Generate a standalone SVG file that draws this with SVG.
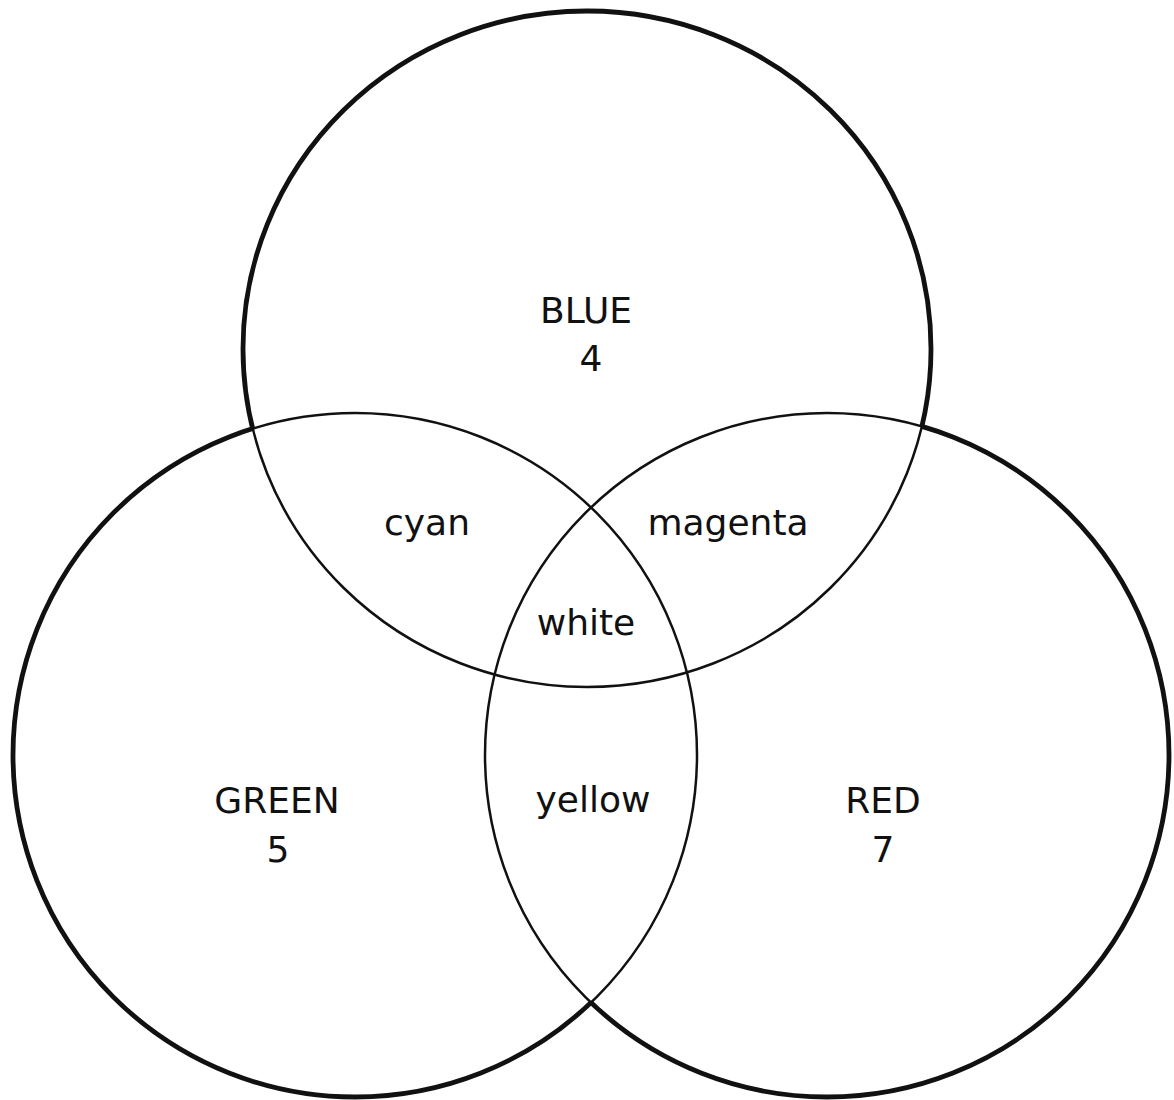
<svg xmlns="http://www.w3.org/2000/svg" width="1174" height="1100" viewBox="0 0 1174 1100">
  <style>
    .thin { fill: none; stroke: #111; stroke-width: 2.5; }
    .thick { fill: none; stroke: #111; stroke-width: 4.8; }
    text { font-family: "DejaVu Sans", "Liberation Sans", sans-serif; font-size: 36px; fill: #111; text-anchor: middle; }
  </style>
  <defs>
    <ellipse id="cBlue" cx="587" cy="349" rx="344" ry="338"/>
    <circle id="cGreen" cx="355" cy="755" r="342"/>
    <circle id="cRed" cx="827" cy="755" r="342"/>
    <mask id="mBlue" maskUnits="userSpaceOnUse" x="0" y="0" width="1174" height="1100">
      <rect x="0" y="0" width="1174" height="1100" fill="#fff"/>
      <use href="#cGreen" fill="#000"/>
      <use href="#cRed" fill="#000"/>
    </mask>
    <mask id="mGreen" maskUnits="userSpaceOnUse" x="0" y="0" width="1174" height="1100">
      <rect x="0" y="0" width="1174" height="1100" fill="#fff"/>
      <use href="#cBlue" fill="#000"/>
      <use href="#cRed" fill="#000"/>
    </mask>
    <mask id="mRed" maskUnits="userSpaceOnUse" x="0" y="0" width="1174" height="1100">
      <rect x="0" y="0" width="1174" height="1100" fill="#fff"/>
      <use href="#cBlue" fill="#000"/>
      <use href="#cGreen" fill="#000"/>
    </mask>
  </defs>
  <rect x="0" y="0" width="1174" height="1100" fill="#fff"/>
  <g id="blue">
    <use href="#cBlue" class="thin"/>
    <use href="#cBlue" class="thick" mask="url(#mBlue)"/>
    <text x="586" y="323">BLUE</text>
    <text x="591" y="371">4</text>
  </g>
  <g id="green">
    <use href="#cGreen" class="thin"/>
    <use href="#cGreen" class="thick" mask="url(#mGreen)"/>
    <text x="277" y="813">GREEN</text>
    <text x="278" y="862">5</text>
  </g>
  <g id="red">
    <use href="#cRed" class="thin"/>
    <use href="#cRed" class="thick" mask="url(#mRed)"/>
    <text x="883" y="813">RED</text>
    <text x="883" y="862">7</text>
  </g>
  <g id="cyan"><text x="427" y="535">cyan</text></g>
  <g id="magenta"><text x="728" y="535">magenta</text></g>
  <g id="white"><text x="586" y="635">white</text></g>
  <g id="yellow"><text x="593" y="812">yellow</text></g>
  <g id="connectors"></g>
</svg>
